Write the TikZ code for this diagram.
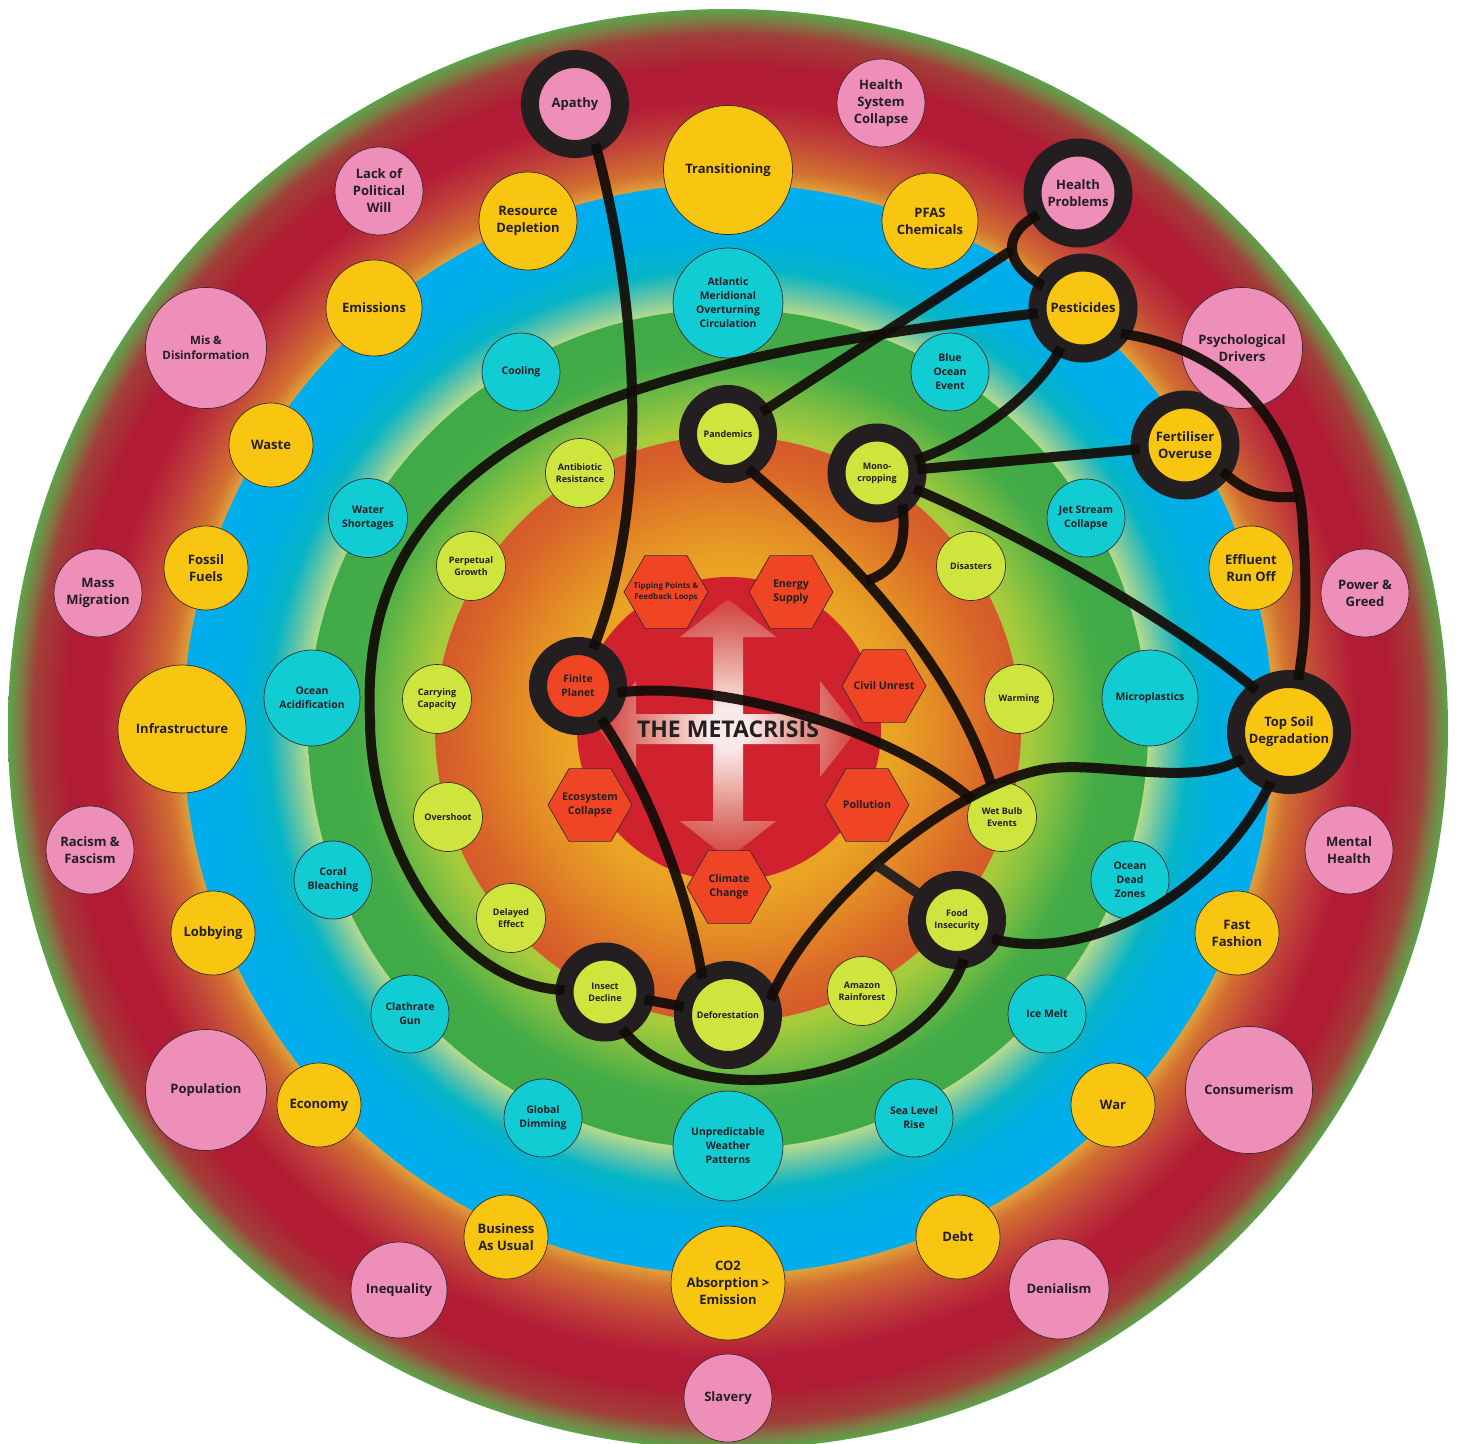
\documentclass[tikz,border=0pt]{standalone}
\usepackage{fontspec}
\setmainfont{Open Sans}
\usetikzlibrary{shapes.geometric}

\definecolor{ringdark}{HTML}{231F20}
\definecolor{pinkc}{HTML}{EE8FB9}
\definecolor{yelc}{HTML}{F8C511}
\definecolor{cyanc}{HTML}{12CCD3}
\definecolor{limec}{HTML}{CDE53C}
\definecolor{hexc}{HTML}{EF4524}
\definecolor{txtc}{HTML}{231F20}
\definecolor{bubline}{HTML}{3A2A2E}
\definecolor{linec}{HTML}{120C08}
\definecolor{discred}{HTML}{D0212F}
% outer ring
\definecolor{orA}{HTML}{E0A03A}
\definecolor{orB}{HTML}{D27030}
\definecolor{orC}{HTML}{C0403A}
\definecolor{orD}{HTML}{B31C35}
\definecolor{orE}{HTML}{B11B35}
\definecolor{orF}{HTML}{A04038}
\definecolor{orG}{HTML}{7F7A45}
\definecolor{orH}{HTML}{5DA34A}
% blue ring
\definecolor{blA}{HTML}{B5DA8E}
\definecolor{blB}{HTML}{60C3A8}
\definecolor{blC}{HTML}{06B5C6}
\definecolor{blD}{HTML}{00AFE2}
\definecolor{blE}{HTML}{00ADEF}
% green ring
\definecolor{grA}{HTML}{A8CB3B}
\definecolor{grB}{HTML}{80BF41}
\definecolor{grC}{HTML}{45AC47}
\definecolor{grD}{HTML}{3FAA48}
% orange disc
\definecolor{oaA}{HTML}{EAA324}
\definecolor{oaB}{HTML}{E38A25}
\definecolor{oaC}{HTML}{DA6828}
\definecolor{oaD}{HTML}{D55A2B}
% cross glow
\definecolor{crA}{HTML}{FFFFFF}
\definecolor{crB}{HTML}{F3C9BF}
\definecolor{crC}{HTML}{E08A80}
\definecolor{crD}{HTML}{D5423F}

\pgfdeclareradialshading{outerring}{\pgfpointorigin}{color(0bp)=(orA); color(18.92bp)=(orA); color(19.48bp)=(orB); color(20.66bp)=(orC); color(21.81bp)=(orD); color(22.95bp)=(orE); color(24.13bp)=(orF); color(24.58bp)=(orG); color(25bp)=(orH); color(50bp)=(orH)}
\pgfdeclareradialshading{bluering}{\pgfpointorigin}{color(0bp)=(blA); color(19.27bp)=(blA); color(20.18bp)=(blB); color(21.1bp)=(blC); color(22.48bp)=(blD); color(25bp)=(blE); color(50bp)=(blE)}
\pgfdeclareradialshading{greenring}{\pgfpointorigin}{color(0bp)=(grA); color(17.86bp)=(grA); color(19.64bp)=(grB); color(22.02bp)=(grC); color(25bp)=(grD); color(50bp)=(grD)}
\pgfdeclareradialshading{orangedisc}{\pgfpointorigin}{color(0bp)=(oaA); color(14.08bp)=(oaA); color(17.92bp)=(oaB); color(22.18bp)=(oaC); color(25bp)=(oaD); color(50bp)=(oaD)}
\pgfdeclareradialshading{crossglow}{\pgfpointorigin}{color(0bp)=(crA); color(4bp)=(crA); color(10bp)=(crB); color(17bp)=(crC); color(25bp)=(crD); color(50bp)=(crD)}

\newcommand\fntbig{\bfseries\fontsize{13}{17}\selectfont}
\newcommand\fntmid{\bfseries\fontsize{11.5}{15}\selectfont}
\newcommand\fntcy{\bfseries\fontsize{10.4}{14}\selectfont}
\newcommand\fntlm{\bfseries\fontsize{9}{12}\selectfont}
\newcommand\fntfp{\bfseries\fontsize{10.3}{14}\selectfont}
\newcommand\fnthex{\bfseries\fontsize{10.6}{14}\selectfont}
\newcommand\fnttip{\bfseries\fontsize{8}{10.5}\selectfont}
\newcommand\fnttitle{\bfseries\fontsize{23}{28}\selectfont}

\tikzset{
  bub/.style={circle, draw=bubline, line width=0.7pt, inner sep=0pt, outer sep=0pt, align=center, text=txtc, font=\fntbig},
  pk/.style={bub, fill=pinkc, minimum size=#1pt},
  yl/.style={bub, fill=yelc, minimum size=#1pt},
  cy/.style={bub, fill=cyanc, minimum size=#1pt, font=\fntcy},
  lm/.style={bub, fill=limec, minimum size=#1pt, font=\fntlm},
  ringed/.style={circle, draw=ringdark, line width=18pt, inner sep=0pt, outer sep=0pt, align=center, text=txtc},
  rpk/.style={ringed, fill=pinkc, minimum size=#1pt, font=\fntbig},
  ryl/.style={ringed, fill=yelc, minimum size=#1pt, font=\fntbig},
  rlm/.style={ringed, fill=limec, minimum size=#1pt, font=\fntlm},
  rhx/.style={ringed, fill=hexc, minimum size=#1pt, font=\fntfp},
  hexs/.style={regular polygon, regular polygon sides=6, minimum size=84pt, inner sep=0pt, outer sep=0pt, fill=hexc, draw=bubline, line width=0.7pt},
  hexlbl/.style={align=center, text=txtc, font=\fnthex, inner sep=0pt},
  tiplbl/.style={align=center, text=txtc, font=\fnttip, inner sep=0pt},
  conn/.style={draw=linec, line width=10pt, draw opacity=0.93},
  conntwo/.style={draw=ringdark, line width=10pt, draw opacity=0.95}
}

\begin{document}
\begin{tikzpicture}[x=1pt, y=-1pt]
\useasboundingbox (0,0) rectangle (1459,1443);
\fill[white] (0,0) rectangle (1459,1443);

% background rings
\shade[shading=outerring] (728,729) circle[radius=720];
\shade[shading=bluering] (728,729) circle[radius=545];
\shade[shading=greenring] (728,729) circle[radius=420];
\shade[shading=orangedisc] (728,729) circle[radius=293];
\fill[discred] (729,729) circle[radius=152];

% central cross of arrows
\begin{scope}[shift={(728,729)}]
\shade[shading=crossglow, fill opacity=0.9] (15,-15) -- (15,-92) -- (48,-92) -- (0,-130) -- (-48,-92) -- (-15,-92) -- (-15,-15) -- (-92,-15) -- (-92,-48) -- (-130,0) -- (-92,48) -- (-92,15) -- (-15,15) -- (-15,92) -- (-48,92) -- (0,130) -- (48,92) -- (15,92) -- (15,15) -- (92,15) -- (92,48) -- (130,0) -- (92,-48) -- (92,-15) -- cycle;
\end{scope}
\node[text=txtc, font=\fnttitle, inner sep=0pt] (title) at (728,729) {THE METACRISIS};

% hexagons
\node[hexs, label={[tiplbl]center:{Tipping Points \&\\Feedback Loops}}] (tipping) at (666,592) {};
\node[hexs, label={[hexlbl]center:{Energy\\Supply}}] (energy) at (791,592) {};
\node[hexs, label={[hexlbl]center:{Civil Unrest}}] (civil) at (884,686) {};
\node[hexs, label={[hexlbl]center:{Ecosystem\\Collapse}}] (ecosys) at (590,805) {};
\node[hexs, label={[hexlbl]center:{Pollution}}] (pollution) at (867,805) {};
\node[hexs, label={[hexlbl]center:{Climate\\Change}}] (climate) at (729,887) {};
\node[rhx=80] (finite) at (578,686) {Finite\\Planet};

% lime (green ring)
\node[rlm=80] (pand) at (728,434) {Pandemics};
\node[lm=69] (antib) at (580,473) {Antibiotic\\Resistance};
\node[rlm=81] (mono) at (877,473) {Mono-\\cropping};
\node[lm=69] (perp) at (471,566) {Perpetual\\Growth};
\node[lm=69] (disast) at (971,566) {Disasters};
\node[lm=69] (carry) at (437,699) {Carrying\\Capacity};
\node[lm=69] (warm) at (1019,699) {Warming};
\node[lm=69] (oversh) at (448,817) {Overshoot};
\node[lm=69] (wet) at (1002,817) {Wet Bulb\\Events};
\node[lm=69] (delay) at (511,918) {Delayed\\Effect};
\node[rlm=80] (food) at (957,920) {Food\\Insecurity};
\node[rlm=81] (insect) at (605,992) {Insect\\Decline};
\node[rlm=90] (defor) at (728,1015) {Deforestation};
\node[lm=69] (amazon) at (862,991) {Amazon\\Rainforest};

% cyan (blue ring)
\node[cy=110] (amoc) at (728,303) {Atlantic\\Meridional\\Overturning\\Circulation};
\node[cy=78] (cooling) at (521,372) {Cooling};
\node[cy=78] (blueocean) at (950,372) {Blue\\Ocean\\Event};
\node[cy=79] (water) at (368,518) {Water\\Shortages};
\node[cy=78] (jet) at (1086,518) {Jet Stream\\Collapse};
\node[cy=96] (acid) at (312,698) {Ocean\\Acidification};
\node[cy=96] (micro) at (1150,698) {Microplastics};
\node[cy=78] (coral) at (333,880) {Coral\\Bleaching};
\node[cy=78] (dead) at (1130,880) {Ocean\\Dead\\Zones};
\node[cy=78] (clath) at (410,1014) {Clathrate\\Gun};
\node[cy=78] (ice) at (1047,1014) {Ice Melt};
\node[cy=78] (dimm) at (543,1118) {Global\\Dimming};
\node[cy=78] (sea) at (914,1118) {Sea Level\\Rise};
\node[cy=110] (unpred) at (728,1146) {Unpredictable\\Weather\\Patterns};

% yellow
\node[yl=129] (trans) at (728,170) {Transitioning};
\node[yl=98] (resdep) at (528,221) {Resource\\Depletion};
\node[yl=96] (pfas) at (930,221) {PFAS\\Chemicals};
\node[yl=96] (emis) at (374,308) {Emissions};
\node[ryl=91] (pest) at (1083,308) {Pesticides};
\node[yl=84] (waste) at (271,445) {Waste};
\node[ryl=91] (fert) at (1185,445) {Fertiliser\\Overuse};
\node[yl=84] (fossil) at (206,568) {Fossil\\Fuels};
\node[yl=84] (effl) at (1251,568) {Effluent\\Run Off};
\node[yl=128] (infra) at (182,729) {Infrastructure};
\node[ryl=106] (topsoil) at (1289,732) {Top Soil\\Degradation};
\node[yl=84] (lobby) at (213,933) {Lobbying};
\node[yl=84] (fast) at (1237,933) {Fast\\Fashion};
\node[yl=84] (econ) at (319,1105) {Economy};
\node[yl=84] (war) at (1113,1105) {War};
\node[yl=84] (bau) at (506,1237) {Business\\As Usual};
\node[yl=84] (debt) at (958,1237) {Debt};
\node[yl=114] (co2) at (728,1283) {CO2\\Absorption >\\Emission};

% pink
\node[rpk=90] (apathy) at (575,104) {Apathy};
\node[pk=88] (hsc) at (881,103) {Health\\System\\Collapse};
\node[pk=88] (lack) at (379,191) {Lack of\\Political\\Will};
\node[rpk=91] (hp) at (1078,193) {Health\\Problems};
\node[pk=121, font=\fntmid] (misinfo) at (206,348) {Mis \&\\Disinformation};
\node[pk=121] (psych) at (1242,348) {Psychological\\Drivers};
\node[pk=88] (migr) at (98,593) {Mass\\Migration};
\node[pk=88] (power) at (1365,593) {Power \&\\Greed};
\node[pk=88] (racism) at (90,850) {Racism \&\\Fascism};
\node[pk=88] (mental) at (1349,850) {Mental\\Health};
\node[pk=121] (popul) at (206,1090) {Population};
\node[pk=127] (consum) at (1249,1090) {Consumerism};
\node[pk=96] (ineq) at (399,1290) {Inequality};
\node[pk=100] (denial) at (1059,1289) {Denialism};
\node[pk=88] (slavery) at (728,1398) {Slavery};

% connectors
\coordinate (j1) at (1012,250);
\coordinate (j2) at (500,455);
\coordinate (j2b) at (370,720);
\coordinate (j3) at (1303,530);
\coordinate (j4) at (1298,497);
\coordinate (j5) at (866,581);
\coordinate (j6) at (1040,770);
\coordinate (j7) at (875,864);

\draw[conn] (apathy.-63) .. controls (645,330) and (645,520) .. (finite);
\draw[conn] (hp) .. controls (1000,235) and (1005,265) .. (pest);
\draw[conn] (pand) -- (j1);
\draw[conn] (pest) .. controls (850,335) and (620,370) .. (j2) .. controls (400,525) and (365,610) .. (j2b) .. controls (370,840) and (450,985) .. (insect);
\draw[conn] (pest) .. controls (1035,395) and (975,440) .. (mono);
\draw[conn] (pest.-34) .. controls (1235,350) and (1300,430) .. (j3) .. controls (1308,600) and (1305,640) .. (topsoil);
\draw[conn] (fert.-35) .. controls (1250,497) and (1270,498) .. (j4);
\draw[conn] (fert) -- (mono);
\draw[conn] (mono) .. controls (1000,525) and (1160,610) .. (topsoil.128);
\draw[conn] (mono.-51) .. controls (908,555) and (892,572) .. (j5);
\draw[conn] (pand.-60) .. controls (850,555) and (950,660) .. (wet);
\draw[conn] (finite.-10) .. controls (700,680) and (880,720) .. (wet.150);
\draw[conn] (finite.-55) .. controls (650,790) and (690,900) .. (defor.125);
\draw[conn] (insect) -- (defor);
\draw[conn] (insect.-65) .. controls (690,1120) and (920,1085) .. (food.-80);
\draw[conn] (food.-28) .. controls (1090,965) and (1220,890) .. (topsoil.-110);
\draw[conn] (defor.20) .. controls (810,905) and (945,790) .. (j6) .. controls (1097,758) and (1190,790) .. (topsoil.210);
\draw[conntwo] (j7) -- (food);
\end{tikzpicture}
\end{document}
